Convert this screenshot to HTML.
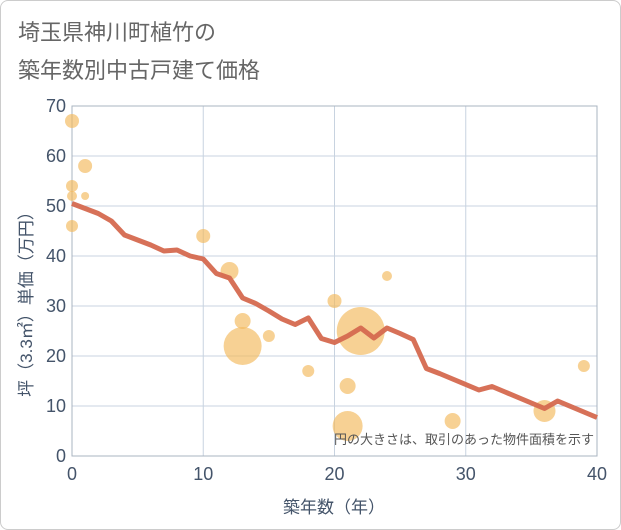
<!DOCTYPE html>
<html><head><meta charset="utf-8"><style>
body{margin:0;background:#fff;font-family:"Liberation Sans","Noto Sans CJK JP",sans-serif}
.wrap{width:621px;height:530px;box-sizing:border-box;border:1px solid #ccc;border-radius:8px;position:relative;overflow:hidden}
svg{position:absolute;left:-1px;top:-1px}
</style></head><body>
<div class="wrap">
<svg id="chart" width="621" height="530">
<text x="18" y="40" font-size="22" fill="#666">埼玉県神川町植竹の</text>
<text x="18" y="78" font-size="22" fill="#666">築年数別中古戸建て価格</text>
</svg>
</div>
<script>
const xTicks=[0,10,20,30,40];
const yTicks=[0,10,20,30,40,50,60,70];
const lineYears=[0,1,2,3,4,5,6,7,8,9,10,11,12,13,14,15,16,17,18,19,20,21,22,23,24,25,26,27,28,29,30,31,32,33,34,35,36,37,38,39,40];
const lineValues=[50.5,49.5,48.5,47,44.2,43.2,42.2,41,41.2,40,39.4,36.5,35.6,31.6,30.5,29,27.4,26.3,27.6,23.5,22.7,24,25.6,23.6,25.6,24.5,23.3,17.5,16.5,15.4,14.3,13.2,13.9,12.8,11.7,10.6,9.5,11,9.9,8.8,7.7];
const bubbleX=[0,1,0,0,1,0,10,12,13,13,15,18,20,21,21,22,24,29,36,39];
const bubbleY=[67,58,54,52,52,46,44,37,27,22,24,17,31,14,6,25,36,7,9,18];
const bubbleR=[7,7,6,5,4,6,7,9,8,19,6,6,7,8,15,24,5,8,11,6];
const L=72,R=597,T=106,B=456;
const sx=v=>L+(v-0)/40*(R-L), sy=v=>B-v/70*(B-T);
const svg=document.getElementById('chart'),NS='http://www.w3.org/2000/svg';
function mk(t,a,p){const e=document.createElementNS(NS,t);for(const k in a)e.setAttribute(k,a[k]);(p||svg).appendChild(e);return e;}
yTicks.forEach(v=>{const g=mk('line',{x1:L,x2:R,y1:sy(v),y2:sy(v),stroke:'#c8d3e0','stroke-width':1});

const t=mk('text',{x:L-6,y:sy(v)+6,'text-anchor':'end','font-size':18,fill:'#44546a'});t.textContent=v;
});
xTicks.forEach(v=>{const g=mk('line',{x1:sx(v),x2:sx(v),y1:T,y2:B,stroke:'#c8d3e0','stroke-width':1});

const t=mk('text',{x:sx(v),y:B+24,'text-anchor':'middle','font-size':18,fill:'#44546a'});t.textContent=v;
});
const fr=mk('rect',{x:L,y:T,width:R-L,height:B-T,fill:'none',stroke:'#aab4c0'});

bubbleX.forEach((x,i)=>{const c=mk('circle',{cx:sx(x),cy:sy(bubbleY[i]),r:bubbleR[i],fill:'rgba(242,185,90,0.65)'});
});
const pl=mk('polyline',{points:lineYears.map((x,i)=>sx(x)+','+sy(lineValues[i])).join(' '),fill:'none',stroke:'#d5694f','stroke-width':5,'stroke-linejoin':'round','stroke-opacity':0.95});

const n=mk('text',{x:594,y:444,'text-anchor':'end','font-size':13,fill:'#555'});n.textContent='円の大きさは、取引のあった物件面積を示す';

const xt=mk('text',{x:334,y:513,'text-anchor':'middle','font-size':17,fill:'#44546a'});xt.textContent='築年数（年）';

const yt=mk('text',{x:0,y:0,'text-anchor':'middle','font-size':17,fill:'#44546a',transform:'translate(32,300) rotate(-90)'});yt.textContent='坪（3.3㎡）単価（万円）';

</script>
</body></html>
